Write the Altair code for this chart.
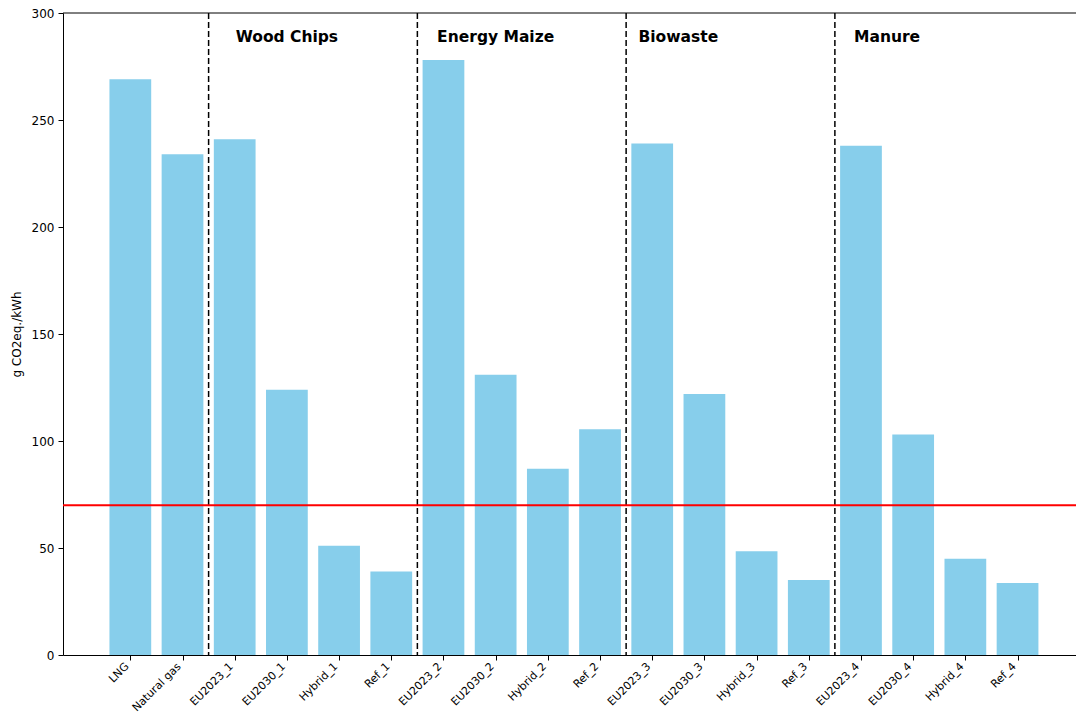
import altair as alt
import pandas as pd

categories = ["LNG", "Natural gas",
              "EU2023_1", "EU2030_1", "Hybrid_1", "Ref_1",
              "EU2023_2", "EU2030_2", "Hybrid_2", "Ref_2",
              "EU2023_3", "EU2030_3", "Hybrid_3", "Ref_3",
              "EU2023_4", "EU2030_4", "Hybrid_4", "Ref_4"]
values = [269, 234,
          241, 124, 51, 39,
          278, 131, 87, 105.5,
          239, 122, 48.5, 35,
          238, 103, 45, 33.6]
group_names = ["Wood Chips", "Energy Maize", "Biowaste", "Manure"]
group_label_pos = [3.0, 7.0, 10.5, 14.5]
group_label_y = 289
separator_pos = [1.5, 5.5, 9.5, 13.5]
threshold = 70
y_max = 300

idx = list(range(len(categories)))
bars_df = pd.DataFrame({
    "idx": idx,
    "lo": [i - 0.4 for i in idx],
    "hi": [i + 0.4 for i in idx],
    "cat": categories,
    "value": values,
})
sep_df = pd.DataFrame({"x": separator_pos})
lab_df = pd.DataFrame({"x": group_label_pos, "y": [group_label_y] * len(group_names), "name": group_names})
thr_df = pd.DataFrame({"y": [threshold]})
top_df = pd.DataFrame({"y": [y_max]})

label_array = "[" + ",".join("'" + c + "'" for c in categories) + "]"

xscale = alt.Scale(domain=[-1.29, 18.12], nice=False, zero=False)
yscale = alt.Scale(domain=[0, y_max], nice=False)

xaxis = alt.Axis(values=idx, labelExpr=label_array + "[datum.value]", labelAngle=-45,
                 labelAlign="right", labelBaseline="bottom", labelPadding=8, title=None,
                 grid=False, tickSize=5, labelFontSize=11, labelOverlap=False)
yaxis = alt.Axis(values=[0, 50, 100, 150, 200, 250, 300], title="g CO2eq./kWh",
                 grid=False, tickSize=5, labelFontSize=12, titleFontSize=12,
                 titleFontWeight="normal", titlePadding=8, labelPadding=4)

bars = alt.Chart(bars_df).mark_bar(color="#87CEEB").encode(
    x=alt.X("lo:Q", scale=xscale, axis=xaxis),
    x2="hi:Q",
    y=alt.Y("value:Q", scale=yscale, axis=yaxis),
    y2=alt.datum(0),
)

seps = alt.Chart(sep_df).mark_rule(color="black", strokeWidth=1.5, strokeDash=[6, 3]).encode(
    x=alt.X("x:Q", scale=xscale),
)

thr = alt.Chart(thr_df).mark_rule(color="#FF0000", strokeWidth=2).encode(
    y=alt.Y("y:Q", scale=yscale),
)

top_spine = alt.Chart(top_df).mark_rule(color="black", strokeWidth=1).encode(
    y=alt.Y("y:Q", scale=yscale),
)

labels = alt.Chart(lab_df).mark_text(fontWeight="bold", fontSize=15.5, color="black",
                                     align="center", baseline="middle").encode(
    x=alt.X("x:Q", scale=xscale),
    y=alt.Y("y:Q", scale=yscale),
    text="name:N",
)

chart = alt.layer(bars, seps, thr, top_spine, labels).properties(
    width=1013, height=642,
    autosize=alt.AutoSizeParams(type="none"),
    padding={"left": 55, "top": 5, "right": 0, "bottom": 59},
).configure(font="DejaVu Sans").configure_view(
    strokeOpacity=0
).configure_axis(
    domainColor="black", tickColor="black", labelColor="black", titleColor="black",
    domainWidth=1, tickWidth=1, labelFont="DejaVu Sans", titleFont="DejaVu Sans",
)

chart.save("out.html", embed_options={"renderer": "svg", "actions": False})
